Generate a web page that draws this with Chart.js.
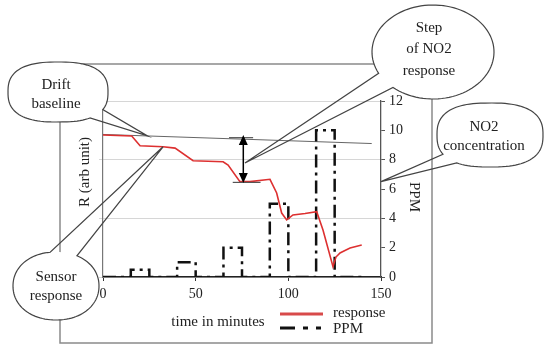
<!DOCTYPE html>
<html>
<head>
<meta charset="utf-8">
<script src="https://cdn.jsdelivr.net/npm/chart.js@4/dist/chart.umd.min.js"></script>
<style>
  html, body { margin: 0; padding: 0; background: #fff; }
  #wrap { width: 545px; height: 345px; }
</style>
</head>
<body>
<div id="wrap"><canvas id="chart" width="545" height="345"></canvas></div>
<script>
/* ── data ── */
const times    = [0, 15.5, 20, 32.4, 38.9, 48.6, 64.8, 67.5, 73.9, 79.3, 90.1, 93.7, 96.4, 99.1, 102.5, 109, 115.3, 118.7, 124.1, 125.7, 127.9, 130, 133.3, 139.6];
const response = [9.68, 9.61, 8.95, 8.88, 8.79, 7.93, 7.86, 7.63, 6.5, 6.5, 6.66, 5.73, 4.36, 3.89, 4.23, 4.33, 4.45, 3.2, 0.7, 1.36, 1.64, 1.77, 1.98, 2.18];

const ppmTimes  = [0, 15, 25, 40, 50, 65, 75, 90, 100, 115, 125, 140];
const ppmValues = [0, 0.5, 0, 1, 0, 2, 0, 5, 0, 10, 0, 0];

const driftTimes  = [0, 145];
const driftValues = [9.72, 9.1];

const xTicks   = [0, 50, 100, 150];
const ppmTicks = [0, 2, 4, 6, 8, 10, 12];

// step marker: arrow + short bars
const stepArrow  = { x: 75.7, from: 9.68, to: 6.41 };
const stepTopBar = { x: [68, 81], y: 9.5 };
const stepLowBar = { x: [70, 85], y: 6.45 };

// where the callouts point (data coords)
const driftTip  = [24, 9.62];
const sensorTip = [32.4, 8.88];
const stepTip   = [76.6, 7.77];
const no2Tip    = [150, 6.5];

const SERIF = '"Liberation Serif", "DejaVu Serif", serif';
const pts = (xs, ys) => xs.map((x, i) => ({ x, y: ys[i] }));

/* ── callout bubble: superellipse with a gap and a tail ── */
function bubble(ctx, b, tip) {
  const P = t => {
    const c = Math.cos(t), s = Math.sin(t), e = 2 / b.n;
    return [b.cx + b.rx * Math.sign(c) * Math.pow(Math.abs(c), e),
            b.cy + b.ry * Math.sign(s) * Math.pow(Math.abs(s), e)];
  };
  const a1 = b.gap[0] * Math.PI / 180, a2 = b.gap[1] * Math.PI / 180;
  // white body
  ctx.beginPath();
  for (let i = 0; i <= 96; i++) {
    const p = P(i / 96 * Math.PI * 2);
    i ? ctx.lineTo(p[0], p[1]) : ctx.moveTo(p[0], p[1]);
  }
  ctx.closePath();
  ctx.fillStyle = '#fff';
  ctx.fill();
  // outline, open at the tail
  ctx.beginPath();
  const span = Math.PI * 2 - (a2 - a1);
  for (let i = 0; i <= 96; i++) {
    const p = P(a2 + span * i / 96);
    i ? ctx.lineTo(p[0], p[1]) : ctx.moveTo(p[0], p[1]);
  }
  ctx.lineTo(tip[0], tip[1]);
  ctx.closePath();
  ctx.strokeStyle = '#444';
  ctx.lineWidth = 1.2;
  ctx.stroke();
  // text
  ctx.fillStyle = '#222';
  ctx.font = '15px ' + SERIF;
  ctx.textAlign = 'center';
  ctx.textBaseline = 'middle';
  b.lines.forEach((t, i) => ctx.fillText(t, b.tx, b.ty + i * b.lh));
}

const decor = {
  id: 'decor',
  beforeDraw(chart) {
    const ctx = chart.ctx;
    ctx.save();
    ctx.fillStyle = '#fff';
    ctx.fillRect(0, 0, chart.width, chart.height);
    // outer frame
    ctx.strokeStyle = '#8a8a8a';
    ctx.lineWidth = 1.5;
    ctx.strokeRect(60, 64, 372, 279);
    ctx.restore();
  },
  afterDraw(chart) {
    const ctx = chart.ctx;
    const sx = chart.scales.x, sy = chart.scales.y;
    const px = v => sx.getPixelForValue(v), py = v => sy.getPixelForValue(v);
    ctx.save();

    // short bars at the step ends
    ctx.strokeStyle = '#555';
    ctx.lineWidth = 1.2;
    [stepTopBar, stepLowBar].forEach(b => {
      ctx.beginPath();
      ctx.moveTo(px(b.x[0]), py(b.y));
      ctx.lineTo(px(b.x[1]), py(b.y));
      ctx.stroke();
    });

    // double arrow
    const ax = px(stepArrow.x), ya = py(stepArrow.from), yb = py(stepArrow.to);
    ctx.strokeStyle = '#000';
    ctx.fillStyle = '#000';
    ctx.lineWidth = 1.5;
    ctx.beginPath();
    ctx.moveTo(ax, ya + 7);
    ctx.lineTo(ax, yb - 7);
    ctx.stroke();
    ctx.beginPath();
    ctx.moveTo(ax, ya); ctx.lineTo(ax - 4.5, ya + 10); ctx.lineTo(ax + 4.5, ya + 10); ctx.closePath();
    ctx.moveTo(ax, yb); ctx.lineTo(ax - 4.5, yb - 10); ctx.lineTo(ax + 4.5, yb - 10); ctx.closePath();
    ctx.fill();

    // callouts
    bubble(ctx, { cx: 58, cy: 92, rx: 50, ry: 30, n: 2.6, gap: [30, 56],
                  lines: ['Drift', 'baseline'], tx: 56, ty: 85, lh: 19 },
           [px(driftTip[0]), py(driftTip[1])]);
    bubble(ctx, { cx: 56, cy: 286, rx: 43, ry: 34, n: 2.1, gap: [-97, -62],
                  lines: ['Sensor', 'response'], tx: 56, ty: 277, lh: 19 },
           [px(sensorTip[0]), py(sensorTip[1])]);
    bubble(ctx, { cx: 433, cy: 52, rx: 61, ry: 47, n: 2, gap: [131, 153],
                  lines: ['Step', 'of NO2', 'response'], tx: 429, ty: 28, lh: 21.5 },
           [px(stepTip[0]), py(stepTip[1])]);
    bubble(ctx, { cx: 490, cy: 135, rx: 53, ry: 32, n: 2.6, gap: [123, 149],
                  lines: ['NO2', 'concentration'], tx: 484, ty: 127, lh: 19 },
           [px(no2Tip[0]), py(no2Tip[1])]);

    // axis titles
    ctx.fillStyle = '#222';
    ctx.font = '15px ' + SERIF;
    ctx.textAlign = 'center';
    ctx.textBaseline = 'middle';
    ctx.save();
    ctx.translate(85, 172);
    ctx.rotate(-Math.PI / 2);
    ctx.fillText('R (arb unit)', 0, 0);
    ctx.restore();
    ctx.save();
    ctx.translate(414, 197);
    ctx.rotate(Math.PI / 2);
    ctx.fillText('PPM', 0, 0);
    ctx.restore();
    ctx.fillText('time in minutes', 218, 322);

    // legend
    ctx.strokeStyle = '#d84a4a';
    ctx.lineWidth = 3;
    ctx.beginPath();
    ctx.moveTo(280, 314); ctx.lineTo(323, 314);
    ctx.stroke();
    ctx.strokeStyle = '#111';
    ctx.beginPath();
    ctx.moveTo(280, 328); ctx.lineTo(295, 328);
    ctx.moveTo(303, 328); ctx.lineTo(308, 328);
    ctx.moveTo(316, 328); ctx.lineTo(321, 328);
    ctx.stroke();
    ctx.textAlign = 'left';
    ctx.fillText('response', 333, 313);
    ctx.fillText('PPM', 333, 329);

    ctx.restore();
  }
};

Chart.defaults.font.family = SERIF;
Chart.defaults.font.size = 14;
Chart.defaults.color = '#222';

new Chart(document.getElementById('chart'), {
  type: 'line',
  data: {
    datasets: [
      {
        label: 'response',
        data: pts(times, response),
        borderColor: '#dd3030',
        borderWidth: 1.6,
        pointRadius: 0,
        tension: 0,
        yAxisID: 'y'
      },
      {
        label: 'PPM',
        data: pts(ppmTimes, ppmValues),
        borderColor: '#111',
        borderWidth: 2.5,
        borderDash: [13, 5, 3, 5],
        stepped: true,
        pointRadius: 0,
        yAxisID: 'y2'
      },
      {
        label: 'drift',
        data: pts(driftTimes, driftValues),
        borderColor: '#666',
        borderWidth: 1,
        pointRadius: 0,
        yAxisID: 'y'
      }
    ]
  },
  options: {
    responsive: false,
    animation: false,
    layout: { padding: { top: 101, left: 0, right: 0, bottom: 0 } },
    plugins: { legend: { display: false }, tooltip: { enabled: false } },
    scales: {
      x: {
        type: 'linear',
        min: 0, max: 150,
        afterFit: s => { s.height = 68; },
        afterBuildTicks: s => { s.ticks = xTicks.map(v => ({ value: v })); },
        grid: { drawOnChartArea: false, tickLength: 4, color: '#333' },
        border: { color: '#222', width: 1.5 },
        ticks: { padding: 5, maxRotation: 0 }
      },
      y: {
        position: 'left',
        min: 0, max: 12,
        afterFit: s => { s.width = 103; },
        ticks: { stepSize: 4, display: false },
        grid: { color: '#d6d6d6', tickLength: 4 },
        border: { color: '#777', width: 1.2 }
      },
      y2: {
        position: 'right',
        min: 0, max: 12,
        afterFit: s => { s.width = 164; },
        afterBuildTicks: s => { s.ticks = ppmTicks.map(v => ({ value: v })); },
        grid: { drawOnChartArea: false, tickLength: 4, color: '#555' },
        border: { color: '#555', width: 1.3 },
        ticks: { padding: 4 }
      }
    }
  },
  plugins: [decor]
});
</script>
</body>
</html>
